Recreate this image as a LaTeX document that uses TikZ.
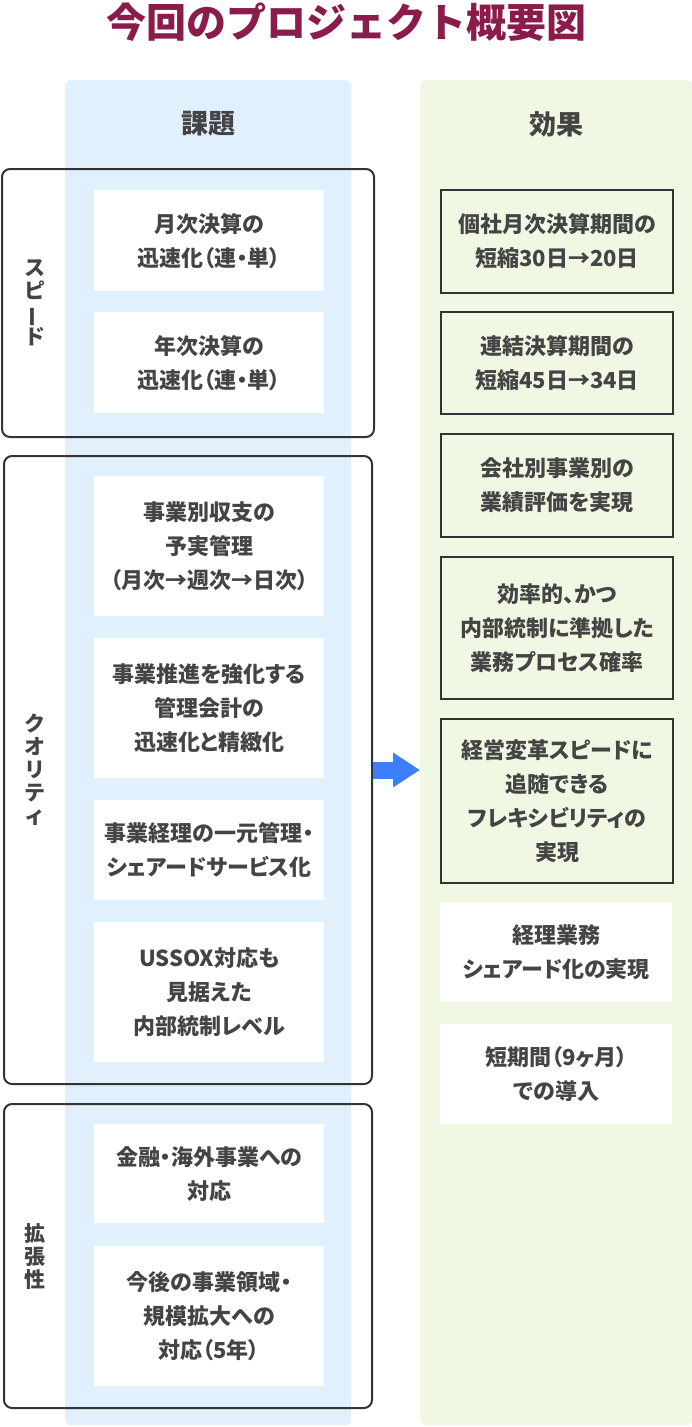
\documentclass[tikz,border=0pt]{standalone}
\usepackage{fontspec}
\setmainfont{Noto Sans CJK JP}
\newfontfamily\paltfont{Noto Sans CJK JP}[RawFeature=+palt]
\usepackage{tikz}
\usetikzlibrary{arrows.meta,positioning}
\definecolor{titleplum}{RGB}{138,28,75}
\definecolor{issuebg}{RGB}{224,240,253}
\definecolor{effectbg}{RGB}{240,247,227}
\definecolor{framegray}{RGB}{51,51,51}
\definecolor{textgray}{RGB}{68,68,68}
\definecolor{arrowblue}{RGB}{61,126,250}

\tikzset{
  colbox/.style={anchor=north west, rounded corners=6pt, inner sep=0pt},
  grouprim/.style={draw=framegray, line width=2pt, rounded corners=8pt, anchor=north west, inner sep=0pt},
  itembox/.style={anchor=north west, align=center, inner sep=0pt, text=textgray,
    font=\paltfont\bfseries\fontsize{22}{34}\selectfont},
  issuebox/.style={itembox, fill=white, minimum width=230pt},
  effectbox/.style={itembox, draw=framegray, line width=2pt, fill=effectbg, minimum width=232pt},
  plainbox/.style={itembox, fill=white, minimum width=232pt},
  sidelabel/.style={align=center, inner sep=0pt, text=textgray,
    font=\bfseries\fontsize{21}{23}\selectfont},
  colhead/.style={text=textgray, font=\bfseries\fontsize{27}{30}\selectfont}
}
\newcommand{\vbar}{\rotatebox[origin=c]{90}{ー}}

\begin{document}
\begin{tikzpicture}[x=1pt,y=-1pt]
\useasboundingbox (0,0) rectangle (692,1427);

% title
\node[text=titleplum, font=\bfseries\fontsize{40}{42}\selectfont] (title) at (346,22) {今回のプロジェクト概要図};

% columns
\node[colbox, fill=issuebg, minimum width=286pt, minimum height=1345pt] (issuecol) at (65,80) {};
\node[colbox, fill=effectbg, minimum width=272pt, minimum height=1345pt] (effectcol) at (420,80) {};
\node[colhead] (issuehead) at ([yshift=-44pt]issuecol.north) {課題};
\node[colhead] (effecthead) at ([yshift=-44pt]effectcol.north) {効果};

% groups on the left
\node[grouprim, minimum width=372pt, minimum height=268pt] (speed) at (1,168) {};
\node[grouprim, minimum width=368pt, minimum height=628pt] (quality) at (3,455) {};
\node[grouprim, minimum width=368pt, minimum height=304pt] (scale) at (3,1103) {};
\node[sidelabel] (speedlbl) at ([xshift=34pt]speed.west) {ス\\ピ\\\vbar\\ド};
\node[sidelabel] (qualitylbl) at ([xshift=32pt]quality.west) {ク\\オ\\リ\\テ\\ィ};
\node[sidelabel] (scalelbl) at ([xshift=32pt]scale.west) {拡\\張\\性};

% issues
\node[issuebox, minimum height=101pt] (iss1) at (94,190) {月次決算の\\迅速化（連・単）};
\node[issuebox, minimum height=101pt] (iss2) at (94,312) {年次決算の\\迅速化（連・単）};
\node[issuebox, minimum height=140pt] (iss3) at (94,476) {事業別収支の\\予実管理\\（月次→週次→日次）};
\node[issuebox, minimum height=140pt] (iss4) at (94,638) {事業推進を強化する\\管理会計の\\迅速化と精緻化};
\node[issuebox, minimum height=100pt] (iss5) at (94,800) {事業経理の一元管理・\\シェアードサービス化};
\node[issuebox, minimum height=140pt] (iss6) at (94,922) {USSOX対応も\\見据えた\\内部統制レベル};
\node[issuebox, minimum height=99pt] (iss7) at (94,1124) {金融・海外事業への\\対応};
\node[issuebox, minimum height=140pt] (iss8) at (94,1246) {今後の事業領域・\\規模拡大への\\対応（5年）};

% effects
\node[effectbox, minimum height=103pt] (eff1) at (440,189) {個社月次決算期間の\\短縮30日→20日};
\node[effectbox, minimum height=102pt] (eff2) at (440,311) {連結決算期間の\\短縮45日→34日};
\node[effectbox, minimum height=103pt] (eff3) at (440,433) {会社別事業別の\\業績評価を実現};
\node[effectbox, minimum height=142pt] (eff4) at (440,556) {効率的、かつ\\内部統制に準拠した\\業務プロセス確率};
\node[effectbox, minimum height=164pt] (eff5) at (440,718) {経営変革スピードに\\追随できる\\フレキシビリティの\\実現};
\node[plainbox, minimum height=100pt] (eff6) at (440,902) {経理業務\\シェアード化の実現};
\node[plainbox, minimum height=100pt] (eff7) at (440,1024) {短期間（9ヶ月）\\での導入};

% arrow
\draw[arrowblue, line width=17pt, -{Triangle[length=27pt, width=33pt]}] (quality.east) -- (quality.east -| effectcol.west);
\end{tikzpicture}
\end{document}
